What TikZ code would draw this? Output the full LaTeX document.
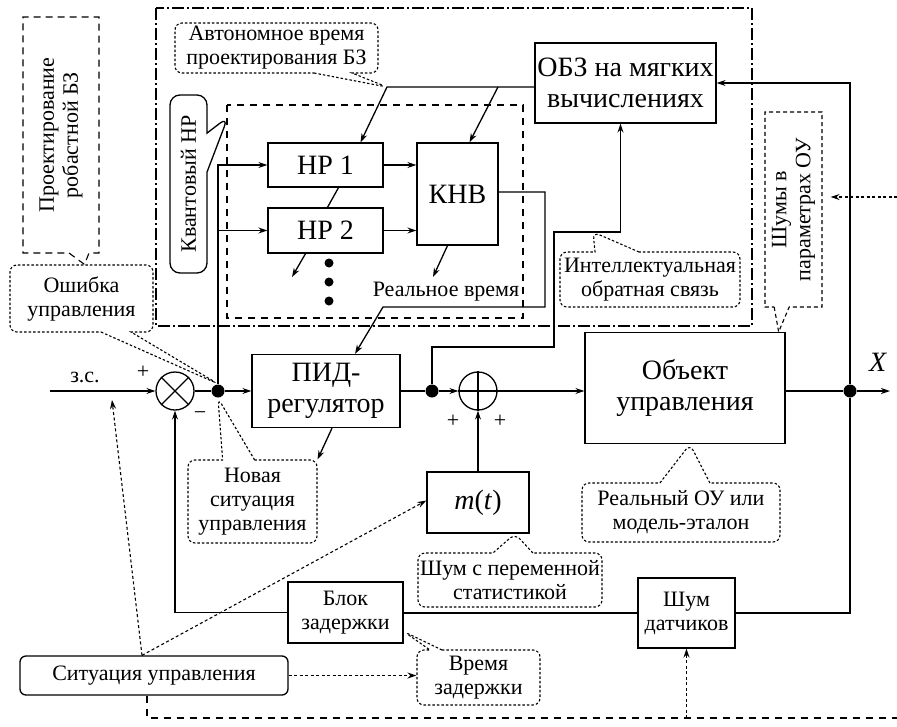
\documentclass[tikz,border=0pt]{standalone}
\usepackage{fontspec}
\setmainfont{Liberation Serif}
\usetikzlibrary{arrows.meta,shapes.callouts}
\newcommand{\bigtxt}{\fontsize{28}{31}\selectfont}
\newcommand{\smalltxt}{\fontsize{22}{24}\selectfont}
\tikzset{
  >={Stealth[length=9pt,width=6pt]},
  blk/.style={draw,align=center,inner sep=2pt,font=\bigtxt},
  sumnode/.style={draw,circle,minimum size=38pt,inner sep=0pt},
  jdot/.style={circle,fill=black,minimum size=13pt,inner sep=0pt},
  vdot/.style={circle,fill=black,minimum size=9pt,inner sep=0pt},
  cnote/.style={rectangle callout,draw,rounded corners=7pt,dash pattern=on 2.5pt off 2pt,
    align=center,inner sep=1pt,font=\smalltxt,line width=1.1pt},
  dnote/.style={rectangle callout,draw,dash pattern=on 7pt off 5pt,
    align=center,inner sep=1pt,font=\smalltxt,line width=1.1pt},
  dotl/.style={dash pattern=on 3pt off 2.5pt,line width=1.1pt},
  dashl/.style={dash pattern=on 7pt off 6pt,line width=1.1pt},
  dashdotl/.style={dash pattern=on 12pt off 3pt on 2pt off 3pt,line width=1.1pt},
  lbl/.style={font=\smalltxt,inner sep=0pt},
}

\begin{document}
\begin{tikzpicture}[x=1pt,y=-1pt,line width=1.3pt]
\useasboundingbox (0,0) rectangle (897,726);
% frames
\draw[dashdotl] (156,8) rectangle (752,326);
\draw[dashl] (227,105) rectangle (523,318);
%
\node (hp1) [blk,minimum width=115pt,minimum height=44pt] at (325.5,165) {НР 1};
\node (hp2) [blk,minimum width=115pt,minimum height=45pt] at (325.5,230.5) {НР 2};
\node (knv) [blk,minimum width=81pt,minimum height=102pt] at (457.5,194) {КНВ};
\node (obz) [blk,minimum width=181pt,minimum height=80pt] at (625.5,83) {ОБЗ на мягких\\вычислениях};
\node (pid) [blk,minimum width=148pt,minimum height=73pt] at (326,391) {ПИД-\\регулятор};
\node (obj) [blk,minimum width=200pt,minimum height=111pt] at (685,388) {Объект\\управления};
\node (mt) [blk,minimum width=102pt,minimum height=61pt] at (478,502.5) {\textit{m}(\textit{t})};
\node (delay) [blk,font=\smalltxt,minimum width=115pt,minimum height=61pt] at (345.5,612.5) {Блок\\задержки};
\node (snoise) [blk,font=\smalltxt,minimum width=97pt,minimum height=70pt] at (686.5,613) {Шум\\датчиков};
\node (sit) [blk,font=\smalltxt,rounded corners=6pt,minimum width=268pt,minimum height=39pt] at (154,675.5) {Ситуация управления};
%
\node (sum1) [sumnode] at (175,391) {};
\node (sum2) [sumnode] at (478,391) {};
\draw (sum1.north west) -- (sum1.south east) (sum1.south west) -- (sum1.north east);
\draw (sum2.north) -- (sum2.south) (sum2.west) -- (sum2.east);
\node (dot1) [jdot] at (218,391) {};
\node (dot2) [jdot] at (432,391) {};
\node (dot3) [jdot] at (850,391) {};
\foreach \n/\y in {1/263,2/282,3/301}
  \node (vd\n) [vdot] at (329,\y) {};
%
\coordinate (zs) at (50,391);
\coordinate (xout) at (890,391);
\coordinate (hpbranch) at (387,87);
\coordinate (knvbranch) at (498,87);
\coordinate (hpout) at (292,277);
\coordinate (knvout) at (433,277);
\coordinate (fbk) at (554,232);
\coordinate (zsmark) at (112,400);
\coordinate (qtip) at (228,117);
\coordinate (edgeB) at (897,718);
\coordinate (edgeR) at (897,197);
%
\node (zslab) [lbl] at (85,377) {з.с.};
\node (p1) [lbl] at (143,372) {+};
\node (m1) [lbl] at (200,416) {−};
\node (p2) [lbl] at (453,421) {+};
\node (p3) [lbl] at (500,421) {+};
\node (xlab) [lbl,font=\bigtxt] at (878,362) {\textit{X}};
\node (rtlab) [lbl] at (446,292) {Реальное время};
%
\node (err) [cnote,minimum width=143pt,minimum height=67pt,callout absolute pointer={(dot1.north)},callout pointer width=30pt] at (81.5,298.5) {Ошибка\\управления};
\node (newsit) [cnote,minimum width=129pt,minimum height=83pt,callout absolute pointer={(dot1.south)},callout pointer width=32pt] at (252.5,501.5) {Новая\\ситуация\\управления};
\node (auto) [cnote,minimum width=203pt,minimum height=50pt,callout absolute pointer={(hpbranch)},callout pointer width=38pt] at (276.5,48) {Автономное время\\проектирования БЗ};
\node (intel) [cnote,minimum width=180pt,minimum height=55pt,callout absolute pointer={([xshift=39pt]fbk)},callout pointer width=44pt] at (650,279.5) {Интеллектуальная\\обратная связь};
\node (real) [cnote,minimum width=198pt,minimum height=59pt,callout absolute pointer={([xshift=5pt]obj.south)},callout pointer width=50pt] at (681,512.5) {Реальный ОУ или\\модель-эталон};
\node (mnoise) [cnote,minimum width=184pt,minimum height=54pt,callout absolute pointer={([xshift=37pt]mt.south)},callout pointer width=40pt] at (510,580) {Шум с переменной\\статистикой};
\node (dtime) [cnote,minimum width=123pt,minimum height=55pt,callout absolute pointer={([yshift=-19pt]delay.east)},callout pointer width=12pt] at (478.5,677.5) {Время\\задержки};
\node (design) [dnote,minimum width=76pt,minimum height=236pt,callout absolute pointer={([xshift=3pt]err.north)},callout pointer width=20pt] at (61,135)
  {\rotatebox{90}{\begin{tabular}{@{}c@{}}Проектирование\\робастной БЗ\end{tabular}}};
\node (pnoise) [dnote,dash pattern=on 4pt off 3pt,minimum width=57pt,minimum height=195pt,callout absolute pointer={([xshift=-7pt]obj.north east)},callout pointer width=15pt] at (793.5,209.5)
  {\rotatebox{90}{\begin{tabular}{@{}c@{}}Шумы в\\параметрах ОУ\end{tabular}}};
\node (quant) [rectangle callout,draw,rounded corners=10pt,font=\smalltxt,inner sep=1pt,minimum width=37pt,minimum height=178pt,callout absolute pointer={(qtip)},callout pointer width=39pt] at (188.5,184)
  {\rotatebox{90}{Квантовый НР}};
%
\draw[->] (zs) -- (sum1);
\draw (sum1) -- (dot1);
\draw[->] (dot1) -- (pid);
\draw[->] (dot1) |- (hp1);
\draw[->] (dot1 |- hp2) -- (hp2);
\draw[->] (hp1.east) -- (hp1.east -| knv.west);
\draw[->] (hp2.east) -- (hp2.east -| knv.west);
\draw ([xshift=13pt]hp1.south) -- ([xshift=2pt]hp2.north);
\draw[->] ([xshift=-20pt]hp2.south) -- (hpout);
\draw[->] ([xshift=-10pt]knv.south) -- (knvout);
\draw[->] ([yshift=2pt]knv.east) -- (545,192) -- (545,307) -- (383,307) -- ([xshift=29pt]pid.north);
\draw[->] ([yshift=-4pt]obz.west) -- (hpbranch) -- ([xshift=35pt]hp1.north);
\draw[->] (knvbranch) -- ([xshift=12pt]knv.north);
\draw (pid) -- (dot2);
\draw[->] (dot2) -- (sum2);
\draw[->] (sum2) -- (sum2 -| obj.west);
\draw[->] (mt) -- (sum2);
\draw[->] (dot2) |- (554,347) -- (fbk) -| ([xshift=-5pt]obz.south);
\draw (obj.east |- dot3) -- (dot3);
\draw[->] (dot3) -- (xout);
\draw[->] (dot3) |- (obz);
\draw (dot3) |- (snoise);
\draw (snoise.west) -- (snoise.west -| delay.east);
\draw[->] (delay) -| (sum1);
\draw[->] ([xshift=6pt]pid.south) -- (newsit.north east);
%
\draw[->,dotl] ([xshift=-12pt]sit.north) -- (zsmark);
\draw[->,dotl] ([xshift=-12pt]sit.north) -- ([yshift=2pt]mt.west);
\draw[->,dotl] (sit.east) -- (sit.east -| dtime.west);
\draw[dashl] ([xshift=-7pt]sit.south) |- (edgeB);
\draw[->,dotl] (snoise.south |- edgeB) -- (snoise.south);
\draw[->,dotl,shorten >=8pt] (edgeR) -- (edgeR -| pnoise.east);
\end{tikzpicture}
\end{document}
